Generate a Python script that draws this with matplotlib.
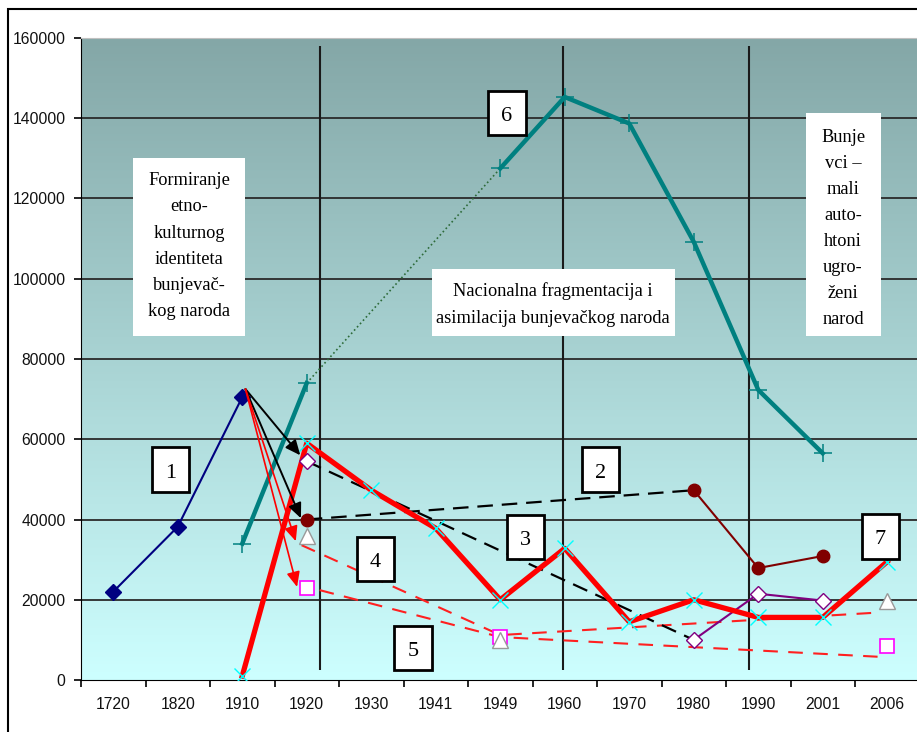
import numpy as np
import matplotlib.pyplot as plt
from matplotlib.colors import LinearSegmentedColormap
from matplotlib.patches import Rectangle

years = ['1720', '1820', '1910', '1920', '1930', '1941', '1949',
         '1960', '1970', '1980', '1990', '2001', '2006']

# 1 - navy diamonds
s1_years = ['1720', '1820', '1910']
s1_vals = [22000, 38200, 70500]

# 6 - teal line (dotted part 1920-1949)
s6a_years = ['1910', '1920']
s6a_vals = [34000, 74000]
s6dot_years = ['1920', '1949']
s6dot_vals = [74000, 127500]
s6b_years = ['1949', '1960', '1970', '1980', '1990', '2001']
s6b_vals = [127500, 145300, 138700, 109200, 72300, 56500]

# 7 - thick red line
red_years = ['1910', '1920', '1930', '1941', '1949', '1960', '1970',
             '1980', '1990', '2001', '2006']
red_vals = [1000, 59000, 47300, 37800, 20000, 32800, 14500,
            20000, 15600, 15600, 29500]

# 3 - diamonds (dashed black to 1980, then purple)
s3_years = ['1920', '1980', '1990', '2001']
s3_vals = [54500, 10000, 21500, 19800]

# 2 - maroon circles
s2_years = ['1920', '1980', '1990', '2001']
s2_vals = [40000, 47300, 27900, 30900]

# 4 - triangles
tri_years = ['1920', '1949', '2006']
tri_vals = [36000, 10000, 19800]
tri_trend_x = [2.92, 6.0, 11.85]
tri_trend_y = [33600, 11200, 16800]

# 5 - squares
sq_years = ['1920', '1949', '2006']
sq_vals = [23000, 10800, 8500]
sq_trend_x = [3.2, 6.0, 11.85]
sq_trend_y = [22400, 10700, 5800]

# arrows from the 1910 peak
arrow_start = (2.05, 72500)
black_arrow_ends = [(2.9, 56000), (2.91, 40300)]
red_arrow_ends = [(2.83, 34600), (2.85, 23200)]

# period dividers
dividers = [3.2, 6.97, 9.86]

W, H = 917, 732


def idx(ys):
    return [years.index(y) for y in ys]


fig = plt.figure(figsize=(W / 100, H / 100), dpi=100)
fig.patch.set_facecolor('white')
fig.patches.append(Rectangle((8 / W, -0.1), 2, 1 - 9 / H + 0.1, transform=fig.transFigure,
                             fill=False, ec='black', lw=1.5))

ax = fig.add_axes([81 / W, 1 - 680 / H, 838.5 / W, (680 - 38) / H])
ax.set_xlim(-0.5, 12.5)
ax.set_ylim(0, 160000)

cmap = LinearSegmentedColormap.from_list('bg', ['#84a7a7', '#cdffff'])
ax.imshow(np.linspace(0, 1, 256).reshape(-1, 1), extent=[-0.5, 12.5, 0, 160000],
          aspect='auto', cmap=cmap, zorder=0)

ax.hlines(np.arange(20000, 160000, 20000), -0.5, 12.5, color='#2a2a2a', lw=1.3, zorder=1)
ax.vlines(dividers, 2500, 158000, color='#1a1a1a', lw=1.5, zorder=1)

# trend lines
ax.plot(tri_trend_x, tri_trend_y, color='#ff2020', lw=1.5, dashes=(7, 5), zorder=2)
ax.plot(sq_trend_x, sq_trend_y, color='#ff2020', lw=1.5, dashes=(7, 5), zorder=2)

x3 = idx(s3_years)
ax.plot(x3[:2], s3_vals[:2], color='black', lw=1.6, dashes=(7, 4), zorder=3)
ax.plot(x3[1:], s3_vals[1:], color='#800080', lw=1.5, zorder=3)
ax.plot(x3, s3_vals, ls='none', marker='D', ms=8, mfc='white', mec='#800080', mew=1, zorder=6)

x2 = idx(s2_years)
ax.plot(x2[:2], s2_vals[:2], color='black', lw=1.6, dashes=(7, 4), zorder=3)
ax.plot(x2[1:], s2_vals[1:], color='#800000', lw=1.5, zorder=3)
ax.plot(x2, s2_vals, ls='none', marker='o', ms=9, color='#800000', zorder=6)

ax.plot(idx(s1_years), s1_vals, color='#000080', lw=1.5, marker='D', ms=8, zorder=4)

ax.plot(idx(s6dot_years), s6dot_vals, color='#2e6b3a', lw=1.2, ls=':', zorder=3)
ax.plot(idx(s6a_years), s6a_vals, color='#008080', lw=3.2, marker='+', ms=13, mew=1.1, zorder=4)
ax.plot(idx(s6b_years), s6b_vals, color='#008080', lw=3.2, marker='+', ms=13, mew=1.1, zorder=4)

ax.plot(idx(red_years), red_vals, color='#ff0000', lw=3.8, zorder=5)
ax.plot(idx(red_years), red_vals, ls='none', marker='x', ms=12, mew=1, color='#00ffff', zorder=5)

ax.plot(idx(tri_years), tri_vals, ls='none', marker='^', ms=11, mfc='white', mec='#999999', zorder=7)
ax.plot(idx(sq_years), sq_vals, ls='none', marker='s', ms=10, mfc='white', mec='#ff00ff', mew=1.2, zorder=6)

for end in black_arrow_ends:
    ax.annotate('', xy=end, xytext=arrow_start,
                arrowprops=dict(arrowstyle='-|>,head_length=0.9,head_width=0.4',
                                color='black', lw=1.4, shrinkA=0, shrinkB=0), zorder=6)
for end in red_arrow_ends:
    ax.annotate('', xy=end, xytext=arrow_start,
                arrowprops=dict(arrowstyle='-|>,head_length=0.9,head_width=0.4',
                                color='#ff0000', lw=1.2, shrinkA=0, shrinkB=0), zorder=6)

# axes styling
ax.spines['right'].set_visible(False)
ax.spines['top'].set_color('#c0c0c0')
ax.spines['left'].set_color('black')
ax.spines['bottom'].set_color('black')
ax.set_yticks(np.arange(0, 160001, 20000))
ax.set_yticklabels([str(v) for v in range(0, 160001, 20000)])
ax.set_xticks(np.arange(-0.5, 13, 1))
ax.set_xticklabels([])
ax.set_xticks(range(len(years)), minor=True)
ax.set_xticklabels(years, minor=True)
ax.tick_params(axis='y', length=5, width=1.2, pad=6, labelsize=11.3)
ax.tick_params(axis='x', which='major', length=5, width=1.2)
ax.tick_params(axis='x', which='minor', length=0, pad=12, labelsize=11.3)
for lab in ax.get_xticklabels(minor=True) + ax.get_yticklabels():
    lab.set_fontfamily('Liberation Sans')
    lab.set_color('#111111')


def fx(x):
    return x / W


def fy(y):
    return 1 - y / H


def box(x0, y0, x1, y1, border=True):
    fig.patches.append(Rectangle((fx(x0), fy(y1)), fx(x1 - x0), (y1 - y0) / H,
                                 transform=fig.transFigure, fc='white',
                                 ec='black' if border else 'none', lw=2 if border else 0,
                                 zorder=10))


def lines(xc, y_first, step, text_lines, size=13.2):
    for i, t in enumerate(text_lines):
        fig.text(fx(xc), fy(y_first + i * step), t, ha='center', va='baseline',
                 fontsize=size, family='Liberation Serif', zorder=11)


# numbered labels
num_boxes = [('1', 152, 447, 189, 492), ('2', 582, 447, 619, 492),
             ('3', 507, 515, 544, 559), ('4', 357, 537, 394, 581),
             ('5', 394, 626, 432, 670), ('6', 488, 91, 526, 135),
             ('7', 862, 514, 899, 559)]
for t, x0, y0, x1, y1 in num_boxes:
    box(x0, y0, x1, y1)
    fig.text(fx((x0 + x1) / 2), fy((y0 + y1) / 2 + 8), t, ha='center', va='baseline',
             fontsize=16, family='Liberation Serif', zorder=11)

box(133, 158, 245, 336, border=False)
lines(189, 185, 26.3, ['Formiranje', 'etno-', 'kulturnog', 'identiteta',
                       'bunjevač-', 'kog naroda'])

box(432, 269, 675, 336, border=False)
lines(553, 296.5, 26.3, ['Nacionalna fragmentacija i',
                         'asimilacija bunjevačkog naroda'])

box(806, 113, 881, 336, border=False)
lines(843, 141.5, 26.1, ['Bunje', 'vci –', 'mali', 'auto-', 'htoni', 'ugro-',
                         'ženi', 'narod'])

fig.savefig('out.png', dpi=100)
